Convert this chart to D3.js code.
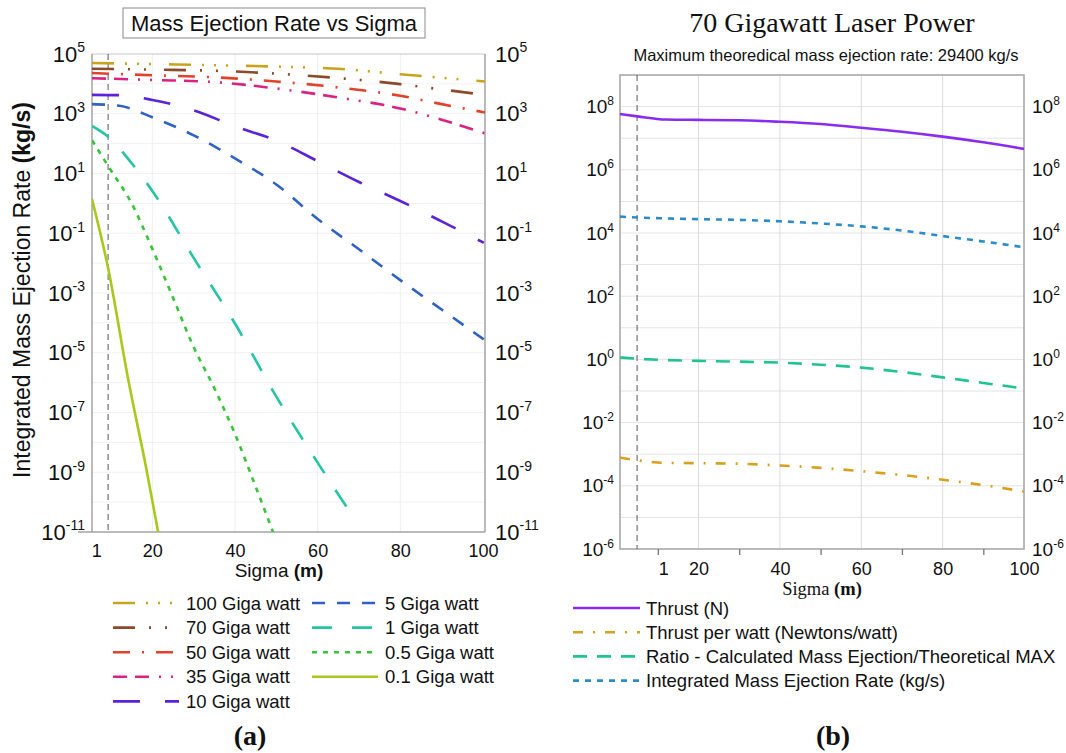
<!DOCTYPE html>
<html><head><meta charset="utf-8">
<script src="https://cdn.jsdelivr.net/npm/d3@7"></script>
<style>
body{margin:0;background:#fff;}
svg{display:block;font-family:"Liberation Sans",Arial,sans-serif;}
</style>
</head><body>
<svg id="c" width="1066" height="753"></svg>
<script>
// ---------------- DATA: panel (a) ----------------
const seriesNamesA = ["100 Giga watt","70 Giga watt","50 Giga watt","35 Giga watt","10 Giga watt",
                      "5 Giga watt","1 Giga watt","0.5 Giga watt","0.1 Giga watt"];
const sigmaTop = [5.4, 20, 35, 50, 65, 80, 90, 100.5];
const gw100 = [5.0e4, 4.6e4, 4.2e4, 3.8e4, 3.2e4, 2.1e4, 1.6e4, 1.2e4];
const gw70  = [3.2e4, 3.0e4, 2.75e4, 2.2e4, 1.56e4, 9.8e3, 6.5e3, 4.3e3];
const gw50  = [2.3e4, 1.95e4, 1.66e4, 1.2e4, 7.6e3, 4.0e3, 2.1e3, 1.1e3];
const gw35  = [1.55e4, 1.35e4, 1.15e4, 7.0e3, 3.5e3, 1.5e3, 630, 220];
const sigmaMid = [5.4, 12, 20, 30, 40, 50, 60, 70, 80, 90, 100.2];
const gw10  = [4.3e3, 4.2e3, 2.9e3, 1.3e3, 380, 126, 26, 5.2, 1.2, 0.25, 0.048];
const gw5   = [2.1e3, 1.85e3, 760, 190, 32, 4.3, 0.30, 0.029, 2.7e-3, 2.8e-4, 2.8e-5];
const sigma1 = [5.4, 10, 15, 20, 30, 40, 50, 60, 68.6];
const gw1   = [390, 141, 22, 2.6, 0.015, 9.5e-5, 3.4e-7, 2.1e-9, 3.2e-11];
const sigma05 = [5.4, 10, 15, 20, 25, 30, 35, 40, 45, 49.2];
const gw05  = [130, 12.6, 1.0, 0.03, 7e-4, 1.55e-5, 6.5e-7, 1.9e-8, 3.3e-10, 1e-11];
const sigma01 = [5.4, 9.3, 14.2, 18.6, 21.4];
const gw01  = [1.4, 6.8e-3, 1.2e-6, 1.2e-9, 1e-11];
const xTickValsA = [6.4, 20, 40, 60, 80, 100];
const xTickLabelsA = ["1","20","40","60","80","100"];
const yTickExpA = [5, 3, 1, -1, -3, -5, -7, -9, -11];
const markerSigmaA = 9.3;

// ---------------- DATA: panel (b) ----------------
const seriesNamesB = ["Thrust (N)","Thrust per watt (Newtons/watt)",
                      "Ratio - Calculated Mass Ejection/Theoretical MAX","Integrated Mass Ejection Rate (kg/s)"];
const sigmaB = [0.7, 5, 12, 20, 30, 40, 50, 60, 70, 80, 90, 100];
const thrust = [5.8e7, 4.9e7, 3.9e7, 3.8e7, 3.7e7, 3.3e7, 2.8e7, 2.15e7, 1.6e7, 1.12e7, 7.4e6, 4.6e6];
const thrustPerWatt = [7.8e-4, 6.4e-4, 5.3e-4, 5.2e-4, 5.0e-4, 4.4e-4, 3.7e-4, 2.9e-4, 2.2e-4, 1.55e-4, 1.05e-4, 6.6e-5];
const ratio = [1.15, 1.05, 0.95, 0.9, 0.85, 0.79, 0.68, 0.55, 0.4, 0.27, 0.18, 0.12];
const massRate = [3.3e4, 3.1e4, 2.9e4, 2.75e4, 2.6e4, 2.35e4, 2.0e4, 1.62e4, 1.2e4, 8.0e3, 5.4e3, 3.55e3];
const xTickValsB = [11.3, 20, 40, 60, 80, 100];
const xTickLabelsB = ["1","20","40","60","80","100"];
const xMinorB = [10, 30, 50, 70, 90];
const yTickExpB = [8, 6, 4, 2, 0, -2, -4, -6];
const markerSigmaB = 4.9;

// ---------------- DRAW ----------------
const svg = d3.select("#c");
const frameColor = "#a3a3a3";

function expText(sel, base, sup) {
  sel.each(function(d){
    const t = d3.select(this);
    const e = d;
    t.text(null);
    t.append("tspan").text("10");
    t.append("tspan").attr("font-size", sup).attr("dy", -base*0.42).text(e);
  });
}

// ===== Panel (a) =====
const xA = d3.scaleLinear().domain([5.4, 100.5]).range([92, 485]);
const yA = d3.scaleLog().domain([1e-11, 1e5]).range([532, 54]);
const gA = svg.append("g");
gA.append("clipPath").attr("id","clipA").append("rect")
  .attr("x", xA.range()[0]).attr("y", yA.range()[1])
  .attr("width", xA.range()[1]-xA.range()[0]).attr("height", yA.range()[0]-yA.range()[1]);

// grid
const decA = d3.range(-10, 5).map(e => Math.pow(10, e));
gA.append("g").selectAll("line").data(decA).join("line")
  .attr("x1", xA.range()[0]).attr("x2", xA.range()[1])
  .attr("y1", d => yA(d)).attr("y2", d => yA(d))
  .attr("stroke", "#f1f1f1").attr("stroke-width", 1);
gA.append("g").selectAll("line").data([20,40,60,80]).join("line")
  .attr("x1", d => xA(d)).attr("x2", d => xA(d))
  .attr("y1", yA.range()[1]).attr("y2", yA.range()[0])
  .attr("stroke", "#eeeeee").attr("stroke-width", 1);

// frame
gA.append("line").attr("x1", xA.range()[0]).attr("x2", xA.range()[1]).attr("y1", 54).attr("y2", 54).attr("stroke", "#c8c8c8").attr("stroke-width", 1.2);
gA.append("line").attr("x1", 92).attr("x2", 92).attr("y1", 54).attr("y2", 532).attr("stroke", frameColor).attr("stroke-width", 1.5);
gA.append("line").attr("x1", 485).attr("x2", 485).attr("y1", 54).attr("y2", 532).attr("stroke", frameColor).attr("stroke-width", 1.5);
gA.append("line").attr("x1", 78).attr("x2", 485).attr("y1", 532).attr("y2", 532).attr("stroke", frameColor).attr("stroke-width", 1.5);

// marker line
gA.append("line").attr("x1", xA(markerSigmaA)).attr("x2", xA(markerSigmaA))
  .attr("y1", 54).attr("y2", 532).attr("stroke", "#666").attr("stroke-width", 1.1).attr("stroke-dasharray", "6,4");

// axes
const yAxL = gA.append("g").attr("transform","translate(92,0)")
  .call(d3.axisLeft(yA).tickValues(yTickExpA.map(e=>Math.pow(10,e))).tickSize(0).tickPadding(7));
yAxL.select(".domain").remove();
yAxL.selectAll(".tick text").attr("font-size", 22).attr("fill","#111").attr("font-family","Liberation Sans, Arial")
  .each(function(d){ d3.select(this).datum(Math.round(Math.log10(d))); });
expText(yAxL.selectAll(".tick text"), 22, 14);
const yAxR = gA.append("g").attr("transform","translate(485,0)")
  .call(d3.axisRight(yA).tickValues(yTickExpA.map(e=>Math.pow(10,e))).tickSize(0).tickPadding(10));
yAxR.select(".domain").remove();
yAxR.selectAll(".tick text").attr("font-size", 22).attr("fill","#111").attr("font-family","Liberation Sans, Arial")
  .each(function(d){ d3.select(this).datum(Math.round(Math.log10(d))); });
expText(yAxR.selectAll(".tick text"), 22, 14);

const xAx = gA.append("g").attr("transform","translate(0,532)")
  .call(d3.axisBottom(xA).tickValues(xTickValsA).tickSize(0).tickPadding(12)
        .tickFormat((d,i) => xTickLabelsA[i]));
xAx.select(".domain").remove();
xAx.selectAll(".tick text").attr("font-size", 18).attr("fill","#111").attr("font-family","Liberation Sans, Arial");

// axis titles
const xtA = gA.append("text").attr("x", 279).attr("y", 577).attr("text-anchor","middle")
  .attr("font-size", 19).attr("fill","#111");
xtA.append("tspan").text("Sigma ");
xtA.append("tspan").attr("font-weight","bold").text("(m)");
const ytA = gA.append("text").attr("transform","translate(30,290) rotate(-90)").attr("text-anchor","middle")
  .attr("font-size", 23).attr("fill","#111");
ytA.append("tspan").text("Integrated Mass Ejection Rate ");
ytA.append("tspan").attr("font-weight","bold").text("(kg/s)");

// title box
gA.append("rect").attr("x",123).attr("y",8).attr("width",302).attr("height",30)
  .attr("fill","#fff").attr("stroke","#8a8a8a").attr("stroke-width",1);
gA.append("text").attr("x",274).attr("y",31).attr("text-anchor","middle")
  .attr("font-size",22).attr("fill","#111").text("Mass Ejection Rate vs Sigma");

// series
const seriesA = [
  {name: seriesNamesA[0], x: sigmaTop, y: gw100, color: "#c9a41a", dash: "22,11,2,10,2,10,2,18"},
  {name: seriesNamesA[1], x: sigmaTop, y: gw70,  color: "#8c4a2a", dash: "22,14,2,14,2,18"},
  {name: seriesNamesA[2], x: sigmaTop, y: gw50,  color: "#e2412a", dash: "17,12,2,12"},
  {name: seriesNamesA[3], x: sigmaTop, y: gw35,  color: "#db2282", dash: "14,8,14,10,2,10,2,10"},
  {name: seriesNamesA[4], x: sigmaMid, y: gw10,  color: "#5b22d8", dash: "27,25"},
  {name: seriesNamesA[5], x: sigmaMid, y: gw5,   color: "#2f62c4", dash: "13,12"},
  {name: seriesNamesA[6], x: sigma1,   y: gw1,   color: "#24c4a4", dash: "20,20"},
  {name: seriesNamesA[7], x: sigma05,  y: gw05,  color: "#38c43a", dash: "5,6"},
  {name: seriesNamesA[8], x: sigma01,  y: gw01,  color: "#a9c81c", dash: null}
];
const lineA = d3.line().x(d => xA(d[0])).y(d => yA(d[1])).curve(d3.curveMonotoneX);
const plotA = gA.append("g").attr("clip-path","url(#clipA)");
seriesA.slice().reverse().forEach(s => {
  plotA.append("path").datum(d3.zip(s.x, s.y)).attr("d", lineA)
    .attr("fill","none").attr("stroke", s.color).attr("stroke-width", 2.6)
    .attr("stroke-dasharray", s.dash);
});

// legend (a)
const legA = gA.append("g");
seriesA.forEach((s, i) => {
  const col = i < 5 ? 0 : 1;
  const row = i < 5 ? i : i - 5;
  const x0 = col === 0 ? 113 : 312;
  const y0 = 603 + row * 24.6;
  legA.append("line").attr("x1", x0).attr("x2", x0 + 66).attr("y1", y0).attr("y2", y0)
    .attr("stroke", s.color).attr("stroke-width", 2.6).attr("stroke-dasharray", s.dash);
  legA.append("text").attr("x", x0 + 73).attr("y", y0 + 6.5).attr("font-size", 18.5)
    .attr("fill","#111").text(s.name);
});
gA.append("text").attr("x", 250).attr("y", 745).attr("text-anchor","middle")
  .attr("font-family","Liberation Serif, Times New Roman, serif").attr("font-weight","bold")
  .attr("font-size", 28).attr("fill","#111").text("(a)");

// ===== Panel (b) =====
const xB = d3.scaleLinear().domain([0.7, 100]).range([620, 1024]);
const yB = d3.scaleLog().domain([1e-6, 1e9]).range([549, 75]);
const gB = svg.append("g");
gB.append("clipPath").attr("id","clipB").append("rect")
  .attr("x", 620).attr("y", 75).attr("width", 404).attr("height", 474);

const decB = d3.range(-5, 9).map(e => Math.pow(10, e));
gB.append("g").selectAll("line").data(decB).join("line")
  .attr("x1", 620).attr("x2", 1024).attr("y1", d => yB(d)).attr("y2", d => yB(d))
  .attr("stroke", "#e4e4e4").attr("stroke-width", 1);
gB.append("g").selectAll("line").data([20,40,60,80]).join("line")
  .attr("x1", d => xB(d)).attr("x2", d => xB(d)).attr("y1", 75).attr("y2", 549)
  .attr("stroke", "#dcdcdc").attr("stroke-width", 1);

gB.append("rect").attr("x",620).attr("y",75).attr("width",404).attr("height",474)
  .attr("fill","none").attr("stroke", frameColor).attr("stroke-width", 1.5);

gB.append("line").attr("x1", xB(markerSigmaB)).attr("x2", xB(markerSigmaB))
  .attr("y1", 75).attr("y2", 549).attr("stroke", "#666").attr("stroke-width", 1.1).attr("stroke-dasharray", "6,4");

const yBL = gB.append("g").attr("transform","translate(620,0)")
  .call(d3.axisLeft(yB).tickValues(yTickExpB.map(e=>Math.pow(10,e))).tickSize(0).tickPadding(6));
yBL.select(".domain").remove();
yBL.selectAll(".tick text").attr("font-size", 19).attr("fill","#111").attr("font-family","Liberation Sans, Arial")
  .each(function(d){ d3.select(this).datum(Math.round(Math.log10(d))); });
expText(yBL.selectAll(".tick text"), 19, 12);
const yBR = gB.append("g").attr("transform","translate(1024,0)")
  .call(d3.axisRight(yB).tickValues(yTickExpB.map(e=>Math.pow(10,e))).tickSize(0).tickPadding(8));
yBR.select(".domain").remove();
yBR.selectAll(".tick text").attr("font-size", 19).attr("fill","#111").attr("font-family","Liberation Sans, Arial")
  .each(function(d){ d3.select(this).datum(Math.round(Math.log10(d))); });
expText(yBR.selectAll(".tick text"), 19, 12);

const xBm = gB.append("g").attr("transform","translate(0,549)")
  .call(d3.axisBottom(xB).tickValues(xMinorB).tickSize(6).tickFormat(""));
xBm.select(".domain").remove();
xBm.selectAll(".tick line").attr("stroke", "#777").attr("stroke-width", 1.3);
const xBx = gB.append("g").attr("transform","translate(0,549)")
  .call(d3.axisBottom(xB).tickValues(xTickValsB).tickSize(0).tickPadding(13)
        .tickFormat((d,i) => xTickLabelsB[i]));
xBx.select(".domain").remove();
xBx.selectAll(".tick text").attr("font-size", 18).attr("fill","#111").attr("font-family","Liberation Sans, Arial");

const xtB = gB.append("text").attr("x", 822).attr("y", 595).attr("text-anchor","middle")
  .attr("font-family","Liberation Serif, Times New Roman, serif").attr("font-size", 18.5).attr("fill","#111");
xtB.append("tspan").text("Sigma ");
xtB.append("tspan").attr("font-weight","bold").text("(m)");

gB.append("text").attr("x", 832).attr("y", 32).attr("text-anchor","middle")
  .attr("font-family","Liberation Serif, Times New Roman, serif").attr("font-size", 28).attr("fill","#111")
  .text("70 Gigawatt Laser Power");
gB.append("text").attr("x", 826).attr("y", 61).attr("text-anchor","middle")
  .attr("font-size", 16.5).attr("fill","#111")
  .text("Maximum theoredical mass ejection rate: 29400 kg/s");

const seriesB = [
  {name: seriesNamesB[0], y: thrust,        color: "#8a2cf0", dash: null},
  {name: seriesNamesB[1], y: thrustPerWatt, color: "#d8a01c", dash: "10,10,2,10"},
  {name: seriesNamesB[2], y: ratio,         color: "#1fc490", dash: "14,10"},
  {name: seriesNamesB[3], y: massRate,      color: "#2a8cca", dash: "6,6"}
];
const lineB = d3.line().x(d => xB(d[0])).y(d => yB(d[1])).curve(d3.curveMonotoneX);
const plotB = gB.append("g").attr("clip-path","url(#clipB)");
seriesB.forEach(s => {
  plotB.append("path").datum(d3.zip(sigmaB, s.y)).attr("d", lineB)
    .attr("fill","none").attr("stroke", s.color).attr("stroke-width", 2.6)
    .attr("stroke-dasharray", s.dash);
});

const legB = gB.append("g");
seriesB.forEach((s, i) => {
  const y0 = 608 + i * 24.2;
  legB.append("line").attr("x1", 573).attr("x2", 640).attr("y1", y0).attr("y2", y0)
    .attr("stroke", s.color).attr("stroke-width", 2.6).attr("stroke-dasharray", s.dash);
  legB.append("text").attr("x", 646).attr("y", y0 + 6.5).attr("font-size", 18.5)
    .attr("fill","#111").text(s.name);
});
gB.append("text").attr("x", 833).attr("y", 745).attr("text-anchor","middle")
  .attr("font-family","Liberation Serif, Times New Roman, serif").attr("font-weight","bold")
  .attr("font-size", 28).attr("fill","#111").text("(b)");
</script>
</body></html>
